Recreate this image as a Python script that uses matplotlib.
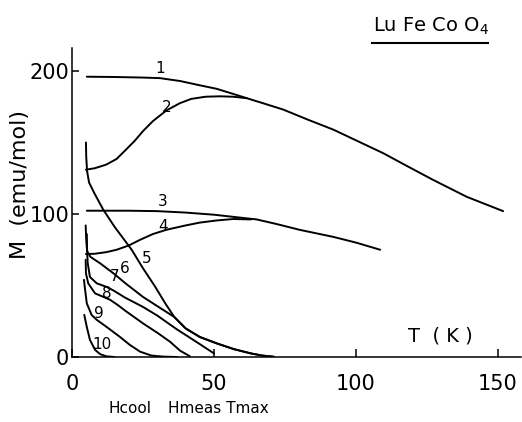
import numpy as np
import matplotlib.pyplot as plt
from matplotlib.lines import Line2D

# === Messkurven M(T) (T in K, M in emu/mol) ===
T1 = [5.2, 15, 25, 31, 38, 45, 51, 56.7, 61.5, 68, 74.4, 83, 92, 100, 109.6, 118, 127, 139, 151.8]
M1 = [196, 195.8, 195.4, 195, 193, 190, 187.5, 184, 181, 177, 173, 166, 159, 151.5, 142.5, 133.5, 124, 112, 102]

T2 = [4.9, 8, 12, 15.7, 19, 22, 25, 28.5, 33.3, 38, 42, 47, 52, 56.8, 61.5]
M2 = [131, 132, 134.5, 138.5, 145, 151, 158, 165, 172.5, 177.5, 180.5, 182, 182.3, 182, 181]

T3 = [5.2, 20, 30, 40, 50, 56.8, 65, 72, 80, 92, 100, 108.5]
M3 = [102.3, 102.3, 102, 101, 99.5, 98, 96.2, 93, 89, 84, 80, 75]

T4 = [4.9, 8, 12, 15.7, 20, 24, 28.5, 33.3, 40, 45, 51, 56.8, 63]
M4 = [72, 72.2, 73.3, 75, 78, 82, 86, 89, 92, 94, 95.5, 96.5, 96.2]

T5 = [4.9, 5.0, 5.3, 6, 7, 8, 11, 15, 21, 25, 29, 33, 36, 40, 45, 51, 57, 63, 67, 71]
M5 = [150, 140, 130, 122, 118, 114, 103, 91, 75, 62, 50, 37, 28, 20, 14, 9.5, 5.5, 2.5, 1, 0.2]

T6 = [4.8, 5.0, 5.3, 6.5, 9.9, 14.6, 18.7, 25, 30, 33, 36, 40, 45, 51, 57, 63, 67, 71]
M6 = [92, 82, 74, 70, 65.5, 58.5, 51.7, 42, 35.6, 31.8, 28, 20, 14, 9.5, 5.5, 2.5, 1, 0.2]

T7 = [5.2, 5.3, 5.5, 6.3, 8.7, 12.2, 14.6, 18.7, 25, 30, 36.8, 41.5, 45, 50]
M7 = [86, 75, 66, 56, 51.5, 49, 46.5, 41.5, 35, 29, 19.5, 13.5, 9, 2.5]

T8 = [4.8, 4.9, 5.7, 8.1, 10.5, 13.4, 16, 19, 25, 30, 34.5, 38, 41.5]
M8 = [68, 58.5, 51.5, 44.5, 42.5, 40, 36.5, 32, 23.5, 17, 10.7, 4.5, 0.5]

T9 = [4.2, 4.6, 5.2, 6.9, 8.7, 12.2, 16.9, 20.4, 24, 28, 32, 37]
M9 = [54, 47, 37.5, 29.4, 26, 21, 14, 8.4, 3.7, 1, 0.3, 0]

T10 = [4.3, 5.2, 6.3, 8.1, 9.9, 12, 15]
M10 = [29.5, 21, 12, 5, 2, 0.5, 0]

kurven = [(T1, M1), (T2, M2), (T3, M3), (T4, M4), (T5, M5),
          (T6, M6), (T7, M7), (T8, M8), (T9, M9), (T10, M10)]

# Kurvennummern und ihre Positionen
label_txt = ["1", "2", "3", "4", "5", "6", "7", "8", "9", "10"]
label_T = [31, 33.3, 32, 32.2, 26.3, 18.7, 15.1, 12.2, 9.3, 10.5]
label_M = [202, 174.5, 108.6, 91, 69, 62, 56, 44.5, 30.5, 9]

x_ticks = [0, 50, 100, 150]
y_ticks = [0, 100, 200]

# === Figure ===
fig = plt.figure(figsize=(5.22, 4.22), dpi=100)
ax = fig.add_axes([0.138, 0.154, 0.8596, 0.732])

for T, M in kurven:
    ax.plot(T, M, color="black", lw=1.4, solid_joinstyle="round", solid_capstyle="round")

for txt, tx, ty in zip(label_txt, label_T, label_M):
    ax.text(tx, ty, txt, fontsize=11, ha="center", va="center")

ax.set_xlim(0, 158)
ax.set_ylim(0, 216)
ax.spines["top"].set_visible(False)
ax.spines["right"].set_visible(False)
ax.spines["left"].set_linewidth(1.1)
ax.spines["bottom"].set_linewidth(1.1)

ax.set_xticks(x_ticks)
ax.set_yticks(y_ticks)
ax.tick_params(axis="x", direction="in", length=6, width=1.1, pad=12, labelsize=15)
ax.tick_params(axis="y", direction="in", length=5, width=1.1, pad=2, labelsize=15)

# Achsenbeschriftungen
ax.text(129.6, 14.7, "T  ( K )", fontsize=14, ha="center", va="center")
fig.text(0.038, 0.562, "M  (emu/mol)", rotation=90, fontsize=16,
         ha="center", va="center")

# Titel mit Unterstrich
fig.text(0.826, 0.925, r"Lu Fe Co O$_4$", fontsize=14, ha="center", va="baseline")
fig.add_artist(Line2D([372 / 522, 488 / 522], [1 - 43 / 422, 1 - 43 / 422],
                      color="black", lw=1.5, transform=fig.transFigure))

# Fußzeile
fig.text(108 / 522, 0.022, "Hcool", fontsize=11, ha="left", va="baseline")
fig.text(168 / 522, 0.022, "Hmeas Tmax", fontsize=11, ha="left", va="baseline")

fig.savefig("out.png", dpi=100)
